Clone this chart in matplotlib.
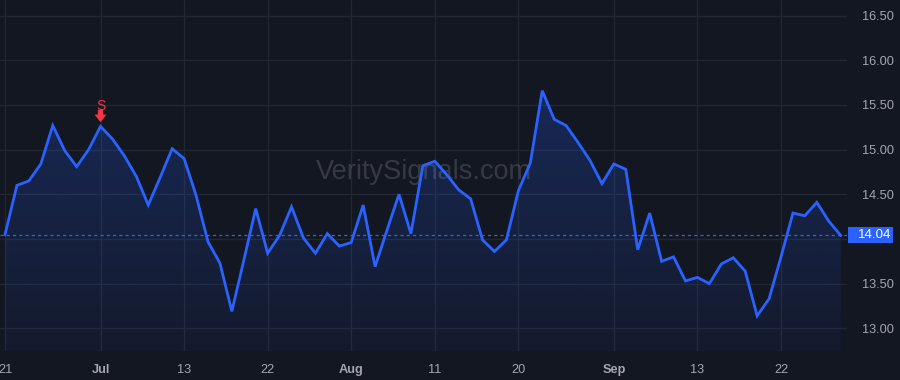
import numpy as np
import matplotlib
matplotlib.use("Agg")
import matplotlib.pyplot as plt
from matplotlib.colors import LinearSegmentedColormap
from matplotlib.transforms import offset_copy, blended_transform_factory
from matplotlib.patches import Rectangle

# ---- data ----
values = [14.05, 14.60, 14.65, 14.84, 15.27, 14.99, 14.81, 15.00, 15.26, 15.12,
          14.93, 14.70, 14.38, 14.69, 15.01, 14.90, 14.49, 13.97, 13.73, 13.19,
          13.76, 14.34, 13.84, 14.04, 14.36, 14.01, 13.84, 14.06, 13.92, 13.96,
          14.38, 13.69, 14.10, 14.50, 14.06, 14.82, 14.87, 14.72, 14.55, 14.45,
          13.99, 13.86, 13.99, 14.54, 14.85, 15.66, 15.34, 15.27, 15.08, 14.88,
          14.62, 14.84, 14.78, 13.88, 14.29, 13.75, 13.80, 13.53, 13.57, 13.50,
          13.72, 13.79, 13.64, 13.14, 13.33, 13.80, 14.29, 14.26, 14.41, 14.20,
          14.04]
tick_idx = [0, 8, 15, 22, 29, 36, 43, 51, 58, 65]
tick_labels = ["21", "Jul", "13", "22", "Aug", "11", "20", "Sep", "13", "22"]
month_labels = ["Jul", "Aug", "Sep"]
y_ticks = [13.0, 13.5, 14.0, 14.5, 15.0, 15.5, 16.0, 16.5]
last_price = 14.04
signal_idx = 8
signal_text = "S"
watermark = "VeritySignals.com"

# ---- style ----
BG = "#131722"
GRID = "#232733"
TXT = "#a3a6af"
BLUE = "#2962ff"
RED = "#f23645"
plt.rcParams['font.family'] = ['Liberation Sans', 'DejaVu Sans']

fig = plt.figure(figsize=(9, 3.8), dpi=100, facecolor=BG)
ax = fig.add_axes([0, 0.0763, 0.941, 0.9237], facecolor=BG)

x = np.arange(len(values))
y = np.array(values)
YLO, YHI = 12.746, 16.675

# gradient fill under the line
poly = ax.fill_between(x, y, YLO - 1, color='none', lw=0)
cmap = LinearSegmentedColormap.from_list(
    'g', [(41/255, 98/255, 1, 0.05), (41/255, 98/255, 1, 0.24)])
grad = np.linspace(0, 1, 256).reshape(-1, 1)
im = ax.imshow(grad, cmap=cmap, origin='lower', aspect='auto',
               extent=[x[0], x[-1], YLO, y.max()], zorder=1,
               interpolation='bilinear')
im.set_clip_path(poly.get_paths()[0], transform=ax.transData)
ax.set_xlim(-0.42, 70.52)
ax.set_ylim(YLO, YHI)

ax.plot(x, y, color=BLUE, lw=2.0, zorder=3, solid_joinstyle='miter')

# last price dashed line
ax.axhline(last_price, color=BLUE, lw=0.9, ls=(0, (2.5, 2.5)), zorder=2)

# grid
ax.set_yticks(y_ticks)
ax.set_xticks(tick_idx)
ax.grid(True, color=GRID, lw=0.9, zorder=0)
ax.set_axisbelow(True)
for s in ax.spines.values():
    s.set_visible(False)

ax.yaxis.tick_right()
# label hidden where the last-price tag sits
ax.set_yticklabels(["" if abs(v - last_price) < 0.1 else f"{v:.2f}" for v in y_ticks])
ax.tick_params(axis='y', length=0, pad=11, labelsize=9.2, labelcolor=TXT)
ax.set_xticklabels(tick_labels)
ax.tick_params(axis='x', length=0, pad=9, labelsize=9.2, labelcolor=TXT)
for lbl in ax.get_xticklabels():
    if lbl.get_text() in month_labels:
        lbl.set_fontweight('bold')

# last price tag
btr = blended_transform_factory(ax.transAxes, ax.transData)
ax_w_px = 0.941 * 900
tag_h = 16 / 89.33
ax.add_patch(Rectangle((848 / ax_w_px, last_price - tag_h / 2), 45 / ax_w_px, tag_h,
                       transform=btr, fc=BLUE, ec='none', clip_on=False, zorder=6))
ax.text(858 / ax_w_px, last_price, f"{last_price:.2f}", transform=btr,
        ha='left', va='center', color='white', fontsize=9.6, clip_on=False, zorder=7)

# signal marker
tr_tip = offset_copy(ax.transData, fig=fig, x=0, y=3.0, units='points')
ax.annotate("", xy=(signal_idx, values[signal_idx]), xycoords=tr_tip,
            xytext=(0, 9), textcoords='offset points',
            arrowprops=dict(arrowstyle='simple,head_length=0.55,head_width=0.85,tail_width=0.38',
                            fc=RED, ec=RED, lw=0, shrinkA=0, shrinkB=0,
                            mutation_scale=10),
            zorder=5)
ax.annotate(signal_text, xy=(signal_idx, values[signal_idx]), xycoords='data',
            xytext=(0, 15), textcoords='offset points',
            ha='center', va='center', color=RED, fontsize=10,
            family=['Liberation Sans', 'DejaVu Sans'], zorder=5)

# watermark
ax.text(0.5, 0.51, watermark, transform=ax.transAxes, ha='center', va='center',
        fontsize=19.5, color=(1, 1, 1, 0.15), zorder=2.5)

fig.savefig("out.png", dpi=100, facecolor=BG)
